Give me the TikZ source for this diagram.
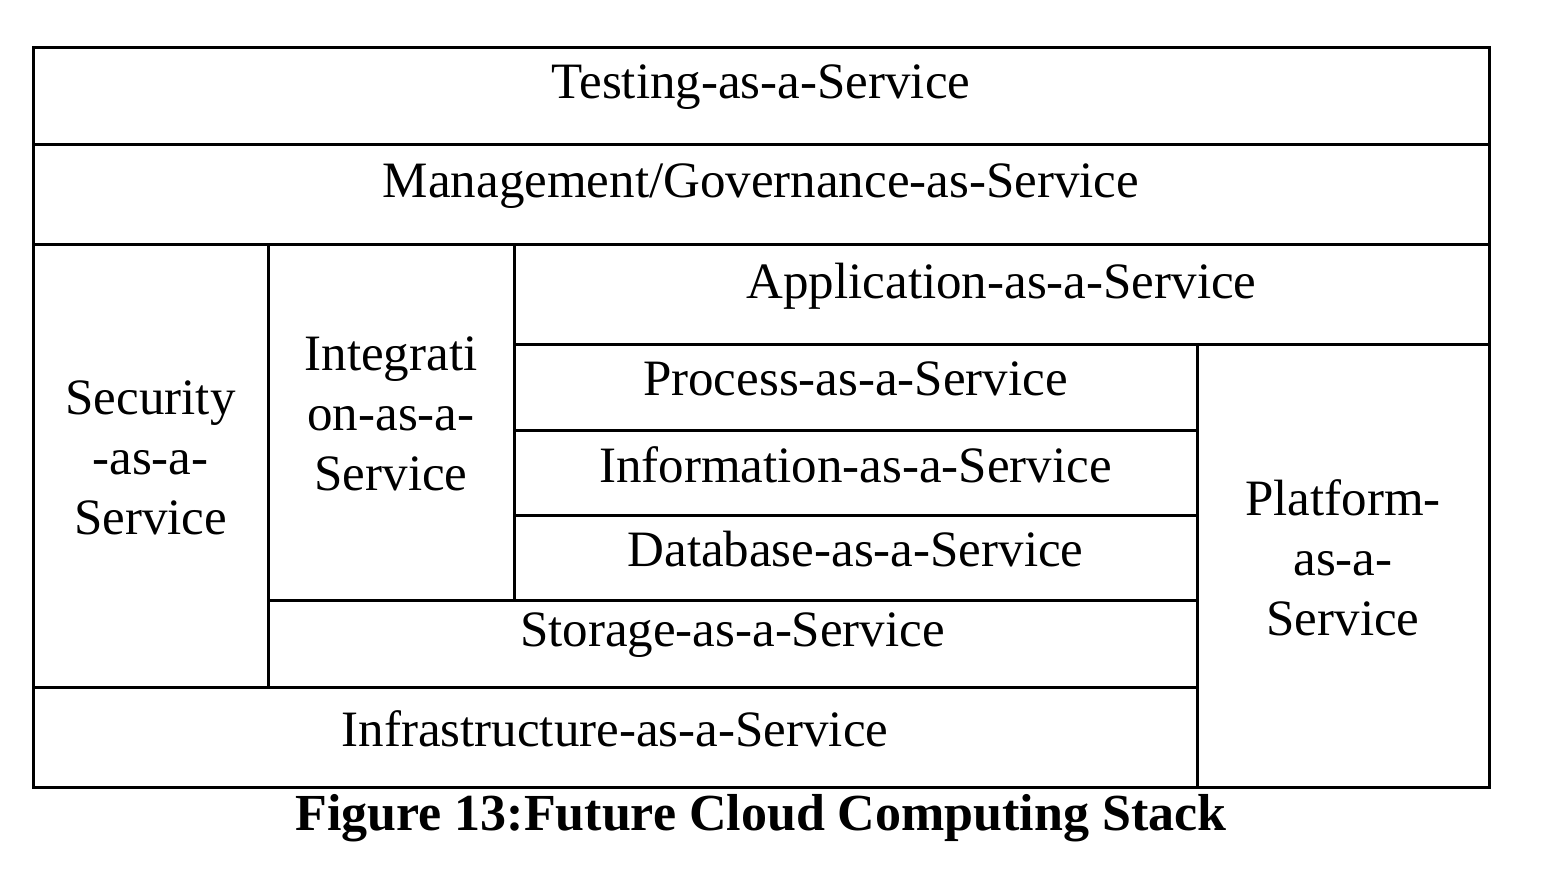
\documentclass[tikz,border=0pt]{standalone}
\usepackage{fontspec}
\setmainfont{Liberation Serif}
\begin{document}
\begin{tikzpicture}[x=1pt,y=-1pt,
  cell/.style={draw,line width=3pt,inner sep=0pt,align=center,font=\fontsize{51}{60}\selectfont},
  lbl/.style={inner sep=0pt,align=center,font=\fontsize{51}{60}\selectfont},
  captext/.style={font=\fontsize{52}{58}\selectfont\bfseries}]
\useasboundingbox (0,0) rectangle (1548,868);
\newcommand{\cellbox}[6]{\node[draw,line width=3pt,inner sep=0pt,minimum width={#4-#2},minimum height={#5-#3}] (#1) at ({(#2+#4)/2},{(#3+#5)/2}) {};
\node[lbl,yshift=8pt] at (#1.center) {#6};}
\cellbox{test}{33}{47}{1489}{144}{Testing-as-a-Service}
\cellbox{mgmt}{33}{144}{1489}{244}{Management/Governance-as-Service}
\cellbox{sec}{33}{244}{268}{687}{Security\\-as-a-\\Service}
\cellbox{integ}{268}{244}{514}{600}{Integrati\\on-as-a-\\Service}
\cellbox{app}{514}{244}{1489}{344}{Application-as-a-Service}
\cellbox{proc}{514}{344}{1197}{430}{Process-as-a-Service}
\cellbox{info}{514}{430}{1197}{515}{Information-as-a-Service}
\cellbox{db}{514}{515}{1197}{600}{Database-as-a-Service}
\cellbox{stor}{268}{600}{1197}{687}{Storage-as-a-Service}
\cellbox{infra}{33}{687}{1197}{787}{Infrastructure-as-a-Service}
\cellbox{plat}{1197}{344}{1489}{787}{Platform-\\as-a-\\Service}
\node[captext] (caption) at (761,818) {Figure 13:Future Cloud Computing Stack};
\end{tikzpicture}
\end{document}
